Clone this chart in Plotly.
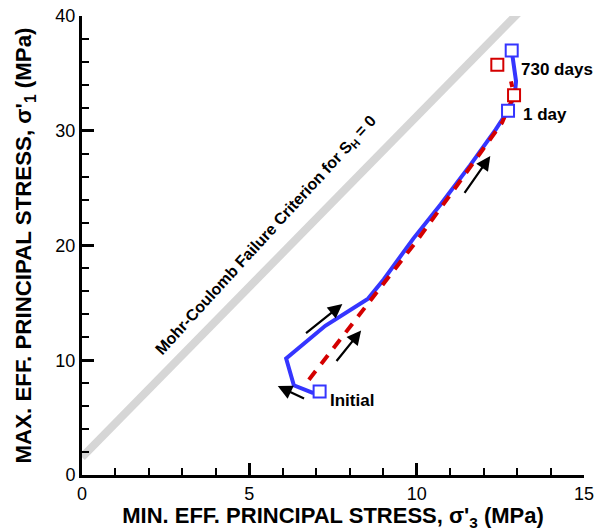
import plotly.graph_objects as go

# ---- data ----
mc_x = [0.0, 15.0]
mc_y = [1.55, 1.55 + 2.97 * 15.0]

blue_x = [7.10, 6.88, 6.33, 6.10, 7.27, 8.55, 9.02, 9.90, 10.72, 11.60, 12.36, 12.73, 12.93, 12.97, 12.84]
blue_y = [7.27, 7.18, 7.82, 10.15, 13.00, 15.37, 17.06, 20.60, 23.60, 27.00, 30.10, 31.75, 33.10, 34.30, 37.00]

red_x = [6.78, 8.60, 9.25, 10.00, 11.00, 12.00, 12.55, 12.91, 12.82]
red_y = [8.30, 15.10, 17.60, 20.40, 24.40, 28.40, 30.70, 33.10, 34.30]

blue_mark_x = [7.10, 12.73, 12.84]
blue_mark_y = [7.27, 31.75, 37.00]
red_mark_x = [12.91, 12.41]
red_mark_y = [33.10, 35.75]

labels = ["Initial", "1 day", "730 days"]
label_x = [7.35, 13.12, 13.05]
label_y = [6.45, 31.40, 35.30]

# arrows: tail -> head
arrow_tail_x = [6.65, 7.57, 6.68, 11.40]
arrow_tail_y = [12.25, 9.80, 6.60, 24.45]
arrow_head_x = [7.78, 8.34, 5.85, 12.20]
arrow_head_y = [14.90, 12.60, 7.75, 27.80]

x_title = "MIN. EFF. PRINCIPAL STRESS, σ'<sub>3</sub> (MPa)"
y_title = "MAX. EFF. PRINCIPAL STRESS, σ'<sub>1</sub> (MPa)"
mc_text = "Mohr-Coulomb Failure Criterion for S<sub>H</sub> = 0"

FONT = "Liberation Sans, Arial, sans-serif"
BLUE = "#3535ff"
RED = "#d40000"

fig = go.Figure()
fig.add_trace(go.Scatter(x=mc_x, y=mc_y, mode="lines",
                         line=dict(color="#d6d6d6", width=8), hoverinfo="skip"))
fig.add_trace(go.Scatter(x=blue_x, y=blue_y, mode="lines",
                         line=dict(color=BLUE, width=4)))
fig.add_trace(go.Scatter(x=red_x, y=red_y, mode="lines",
                         line=dict(color=RED, width=4, dash="11px,9px")))
fig.add_trace(go.Scatter(x=blue_mark_x, y=blue_mark_y, mode="markers",
                         marker=dict(symbol="square", size=12, color="white",
                                     line=dict(color=BLUE, width=2))))
fig.add_trace(go.Scatter(x=red_mark_x, y=red_mark_y, mode="markers",
                         marker=dict(symbol="square", size=12, color="white",
                                     line=dict(color=RED, width=2))))

for t, lx, ly in zip(labels, label_x, label_y):
    fig.add_annotation(x=lx, y=ly, text="<b>%s</b>" % t, showarrow=False,
                       xanchor="left", yanchor="middle",
                       font=dict(family=FONT, size=17, color="black"))

for tx, ty, hx, hy in zip(arrow_tail_x, arrow_tail_y, arrow_head_x, arrow_head_y):
    fig.add_annotation(x=hx, y=hy, ax=tx, ay=ty, xref="x", yref="y",
                       axref="x", ayref="y", text="", showarrow=True,
                       arrowhead=2, arrowsize=1.3, arrowwidth=2.2,
                       arrowcolor="black")

fig.add_annotation(x=5.5, y=20.9, text="<b>%s</b>" % mc_text, showarrow=False,
                   textangle=-47.5, font=dict(family=FONT, size=16, color="black"))

fig.update_layout(
    width=597, height=531,
    margin=dict(l=82, r=13, t=16, b=56),
    paper_bgcolor="white", plot_bgcolor="white",
    showlegend=False,
    font=dict(family=FONT, size=18, color="black"),
)
fig.update_xaxes(range=[0, 15], dtick=5, tick0=0, showgrid=False, zeroline=False,
                 automargin=False,
                 showline=True, linecolor="black", linewidth=3,
                 ticks="inside", ticklen=12, tickwidth=2.5, tickcolor="black",
                 minor=dict(dtick=1, ticks="inside", ticklen=7, tickwidth=1.5,
                            tickcolor="black", showgrid=False),
                 tickfont=dict(size=18),
                 title=dict(text="<b>%s</b>" % x_title, font=dict(size=22), standoff=4))
fig.update_yaxes(range=[0, 40], dtick=10, tick0=0, showgrid=False, zeroline=False,
                 automargin=False,
                 showline=True, linecolor="black", linewidth=3,
                 ticks="inside", ticklen=12, tickwidth=2.5, tickcolor="black",
                 minor=dict(dtick=2, ticks="inside", ticklen=7, tickwidth=1.5,
                            tickcolor="black", showgrid=False),
                 tickfont=dict(size=18),
                 title=dict(text="<b>%s</b>" % y_title, font=dict(size=22.3), standoff=18))

fig.write_html("out.html")
